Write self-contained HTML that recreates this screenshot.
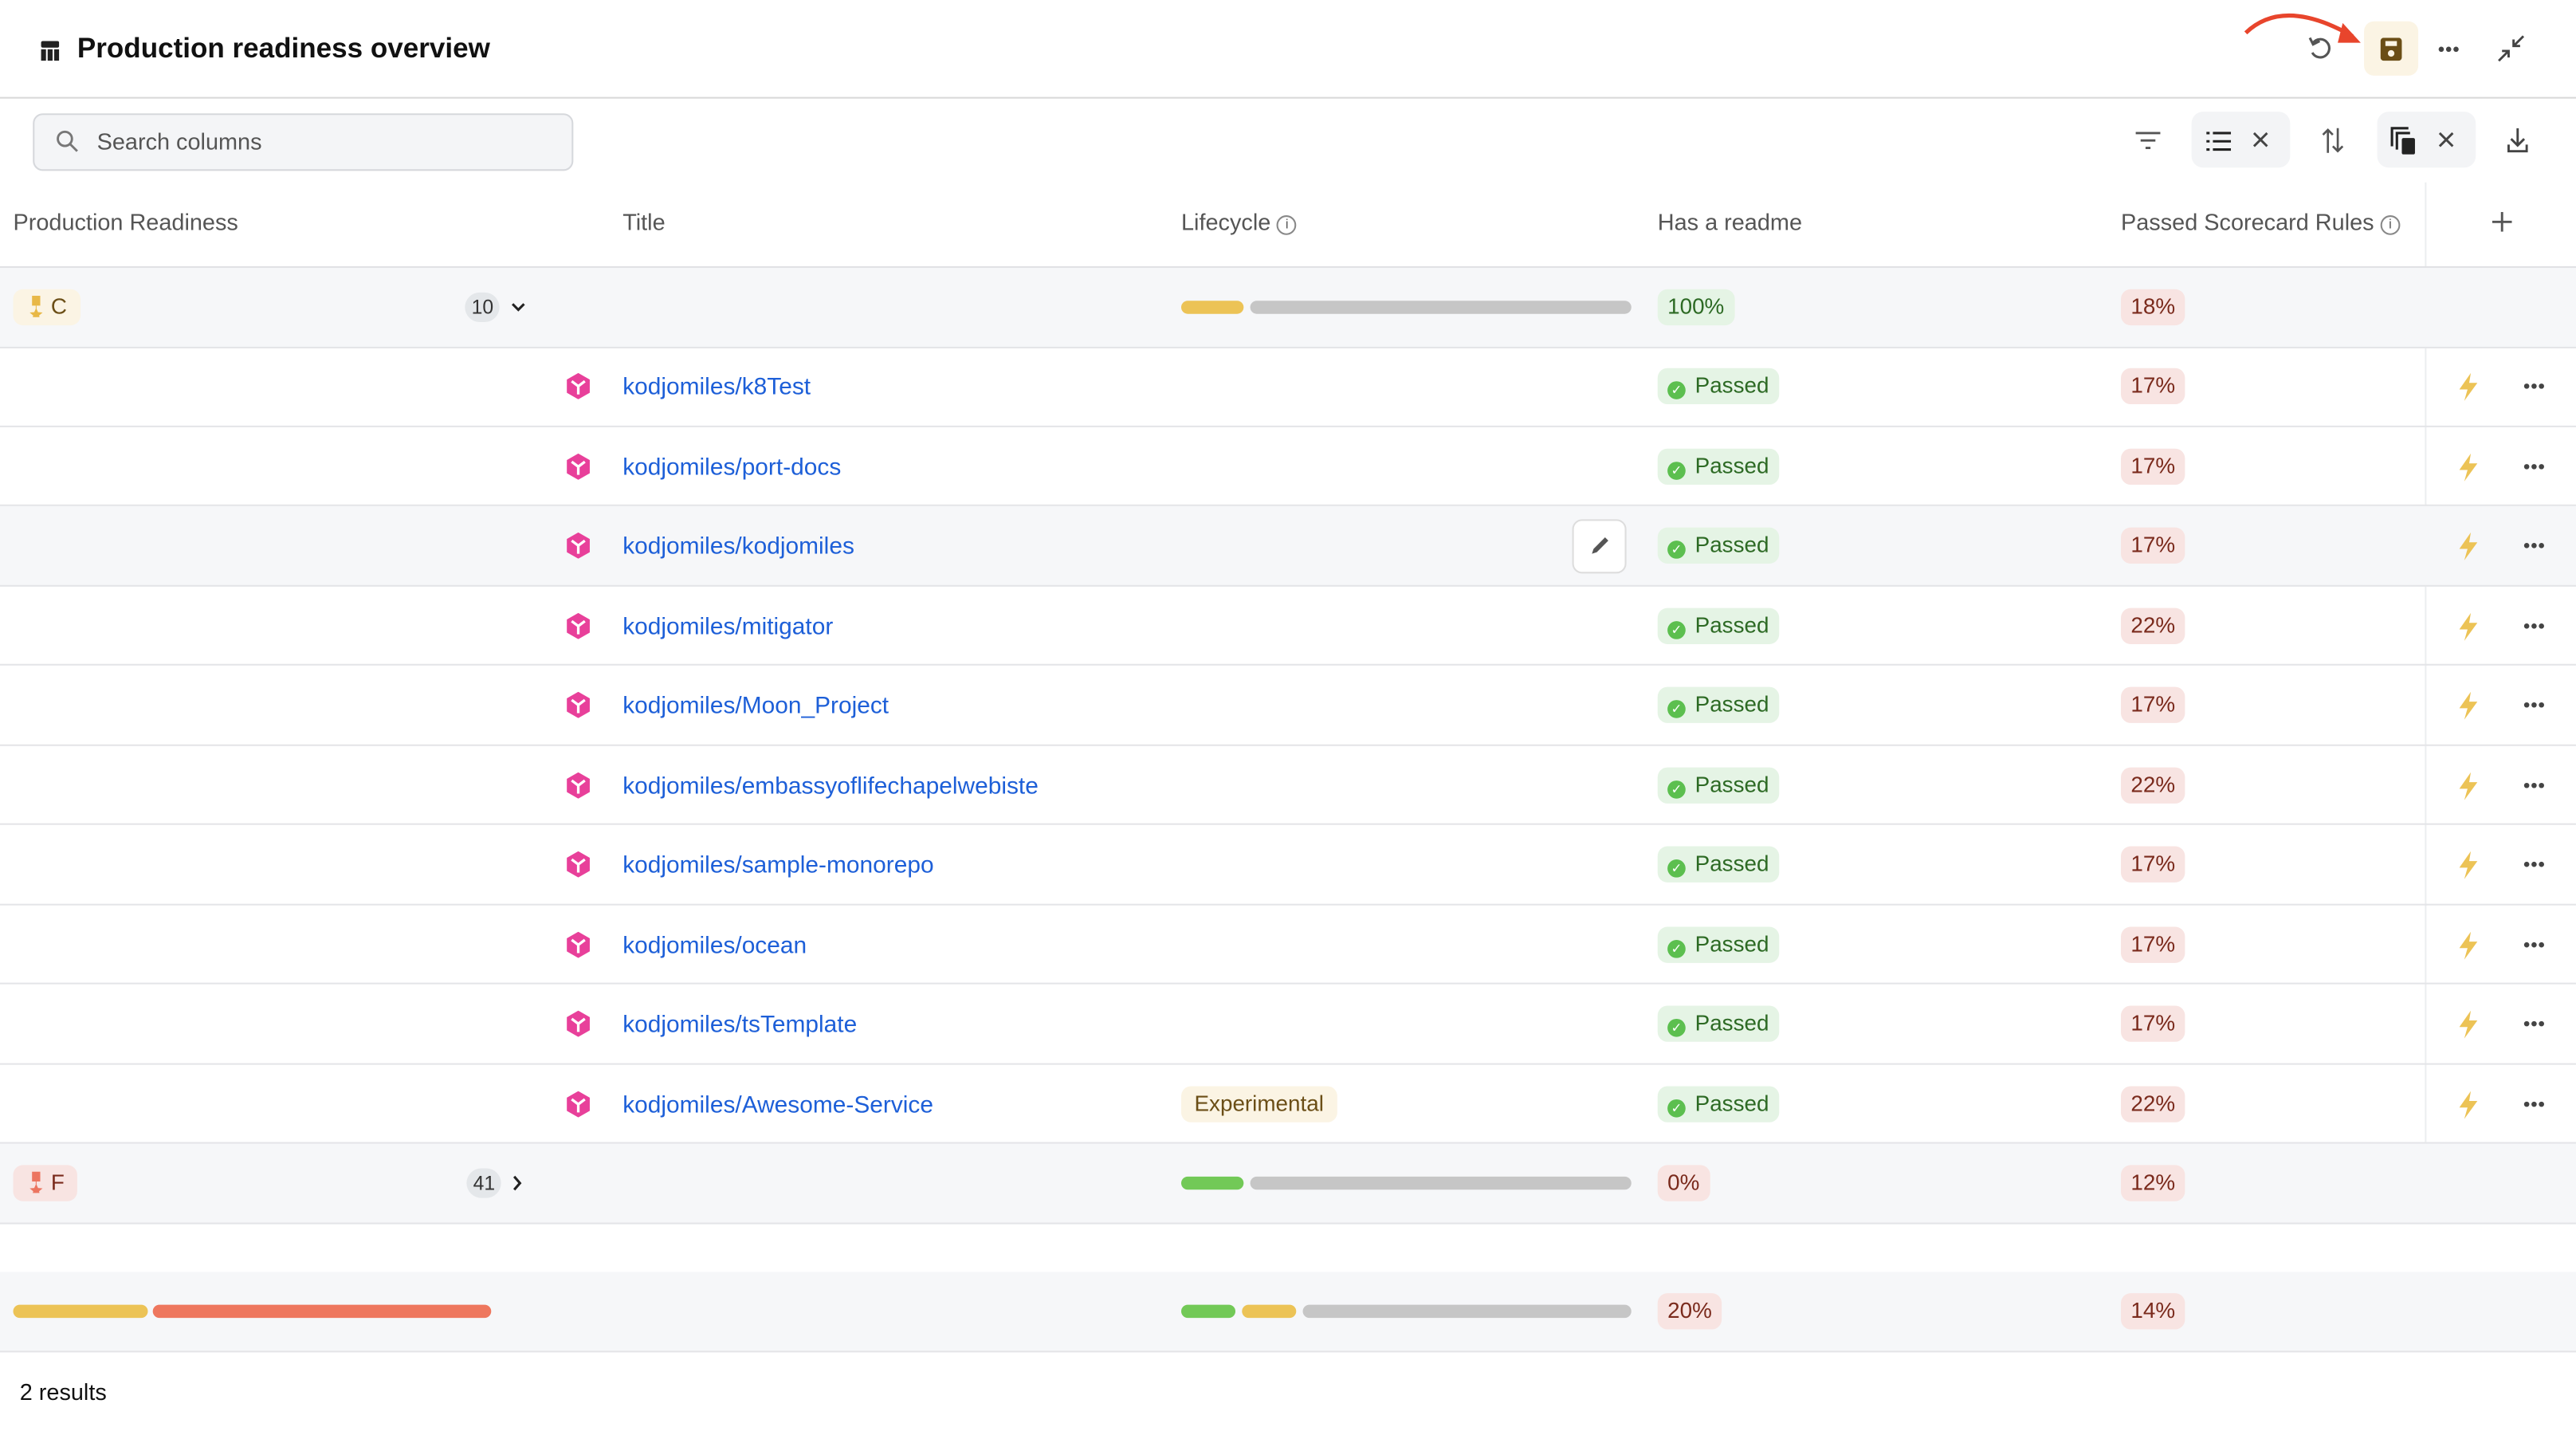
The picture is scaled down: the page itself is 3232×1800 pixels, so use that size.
<!DOCTYPE html>
<html><head><meta charset="utf-8"><style>
html,body{margin:0;padding:0;background:#fff;}
body{width:3232px;height:1800px;overflow:hidden;position:relative;}
#s{position:absolute;left:0;top:0;width:1568px;height:873.3px;transform:scale(2.0612);transform-origin:0 0;font-family:"Liberation Sans",sans-serif;color:#222;font-size:14px;}
.a{position:absolute;}
.row{position:absolute;left:0;width:1568px;border-bottom:1px solid #e4e5e8;box-sizing:border-box;}
.chip{position:absolute;height:22px;line-height:22px;border-radius:6px;padding:0 6px;font-size:13.5px;white-space:nowrap;}
.g{background:#e5f4e5;color:#2d6a24;}
.r{background:#f8e4e2;color:#7a2a1c;}
.y{background:#fbf4e4;color:#6b4e16;}
.hd{position:absolute;top:127px;font-size:14px;color:#555;}
.lnk{position:absolute;left:379px;top:17px;color:#1d5fd8;font-size:14.5px;}
.bar{position:absolute;height:8px;border-radius:4px;}
.cnt{position:absolute;height:18px;line-height:18px;border-radius:9px;background:#e4e7ea;font-size:12px;padding:0 4px;color:#333;}
.ck{display:inline-block;width:11px;height:11px;border-radius:50%;background:#5cbf4f;color:#fff;font-size:8px;line-height:11px;text-align:center;vertical-align:-1px;margin-right:2px;}
.cube{position:absolute;left:345px;top:16px;}
.bolt{position:absolute;left:1497px;top:16px;}
.dots{position:absolute;left:1536px;top:22px;}
</style></head><body><div id="s">
<div class="a" style="left:25px;top:24px;width:11px;height:12px;">
<svg width="11" height="12"><rect x="0" y="0" width="11" height="4" rx="1" fill="#222"/><rect x="0" y="5" width="3" height="7" fill="#222"/><rect x="4" y="5" width="3" height="7" fill="#222"/><rect x="8" y="5" width="3" height="7" fill="#222"/></svg></div>
<div class="a" style="left:47px;top:20px;font-size:17px;font-weight:bold;color:#111;">Production readiness overview</div>
<svg class="a" style="left:1360px;top:4px" width="80" height="40"><path d="M7 16 Q30 -6 72 18" stroke="#e8452c" stroke-width="2.5" fill="none"/><path d="M66 10 L77 22 L63 22 Z" fill="#e8452c"/></svg>
<svg class="a" style="left:1405px;top:22px" width="15" height="15"><path d="M3 4 A5.5 5.5 0 1 1 2.5 10" stroke="#555" stroke-width="1.5" fill="none"/><path d="M1 1 L3 5 L7 3" stroke="#555" stroke-width="1.5" fill="none"/></svg>
<div class="a" style="left:1439px;top:13px;width:33px;height:33px;background:#fbf4e4;border-radius:6px;"></div>
<svg class="a" style="left:1449px;top:23px" width="13" height="14"><rect x="0" y="0" width="13" height="14" rx="2" fill="#6b4e16"/><rect x="3" y="2" width="7" height="3" fill="#fbf4e4"/><circle cx="6.5" cy="9.5" r="2" fill="#fbf4e4"/></svg>
<svg class="a" style="left:1484px;top:28px" width="13" height="4"><circle cx="2" cy="2" r="1.6" fill="#444"/><circle cx="6.5" cy="2" r="1.6" fill="#444"/><circle cx="11" cy="2" r="1.6" fill="#444"/></svg>
<svg class="a" style="left:1520px;top:21px" width="17" height="17"><path d="M16 1 L10 7 M10 3 L10 7 L14 7 M1 16 L7 10 M3 10 L7 10 L7 14" stroke="#444" stroke-width="1.4" fill="none"/></svg>
<div class="a" style="left:0;top:59px;width:1568px;height:1px;background:#d8d8d8;"></div>
<div class="a" style="left:20px;top:69px;width:327px;height:33px;border:1px solid #d6d8dc;border-radius:6px;background:#f4f5f7;"></div>
<svg class="a" style="left:34px;top:79px" width="14" height="14"><circle cx="5.5" cy="5.5" r="4.3" stroke="#777" stroke-width="1.4" fill="none"/><path d="M8.8 8.8 L13 13" stroke="#777" stroke-width="1.4"/></svg>
<div class="a" style="left:59px;top:78px;color:#555;font-size:14px;">Search columns</div>
<svg class="a" style="left:1300px;top:80px" width="15" height="12"><path d="M0 1h15M3 5.5h9M6 10h3" stroke="#555" stroke-width="1.4"/></svg>
<div class="a" style="left:1334px;top:68px;width:60px;height:34px;background:#f3f4f6;border-radius:7px;"></div>
<svg class="a" style="left:1343px;top:80px" width="15" height="12"><path d="M0 1h2M4 1h11M0 6h2M4 6h11M0 11h2M4 11h11" stroke="#222" stroke-width="1.5"/></svg>
<svg class="a" style="left:1371px;top:80px" width="10" height="10"><path d="M1 1L9 9M9 1L1 9" stroke="#444" stroke-width="1.4"/></svg>
<svg class="a" style="left:1413px;top:77px" width="14" height="17"><path d="M4 16V2M1 5l3-3 3 3M10 1v14M7 12l3 3 3-3" stroke="#555" stroke-width="1.3" fill="none"/></svg>
<div class="a" style="left:1447px;top:68px;width:60px;height:34px;background:#f3f4f6;border-radius:7px;"></div>
<svg class="a" style="left:1455px;top:77px" width="16" height="17"><path d="M1 12V1h10" stroke="#222" stroke-width="1.5" fill="none"/><path d="M4 14V4h8" stroke="#222" stroke-width="1.5" fill="none"/><rect x="7" y="7" width="8" height="10" rx="1" fill="#222"/></svg>
<svg class="a" style="left:1484px;top:80px" width="10" height="10"><path d="M1 1L9 9M9 1L1 9" stroke="#444" stroke-width="1.4"/></svg>
<svg class="a" style="left:1526px;top:78px" width="13" height="15"><path d="M6.5 0v10M2.5 6.5l4 4 4-4M1 10v4h11v-4" stroke="#444" stroke-width="1.4" fill="none"/></svg>
<div class="hd" style="left:8px;">Production Readiness</div>
<div class="hd" style="left:379px;">Title</div>
<div class="hd" style="left:719px;">Lifecycle <span style="display:inline-block;width:10px;height:10px;border:1px solid #888;border-radius:50%;font-size:8px;line-height:10px;text-align:center;vertical-align:1px;">i</span></div>
<div class="hd" style="left:1009px;">Has a readme</div>
<div class="hd" style="left:1291px;">Passed Scorecard Rules <span style="display:inline-block;width:10px;height:10px;border:1px solid #888;border-radius:50%;font-size:8px;line-height:10px;text-align:center;vertical-align:1px;">i</span></div>
<svg class="a" style="left:1517px;top:129px" width="12" height="12"><path d="M6 0v12M0 6h12" stroke="#555" stroke-width="1.4"/></svg>
<div class="a" style="left:1476px;top:111px;width:1px;height:585px;background:#eceef0;"></div>
<div class="a" style="left:0;top:162px;width:1568px;height:1px;background:#e0e1e4;"></div>

<div class="row" style="top:163px;height:48.5px;background:#f6f7f9;">
 <div class="chip y" style="left:8px;top:13px;padding:0 8px 0 10px;"><svg width="8" height="13" style="vertical-align:-2px;margin-right:5px"><rect x="1.5" y="0" width="5" height="6" fill="#e8b847"/><path d="M4 6v2M4 8l1 2.2 2.3.2-1.8 1.5.6 2.2L4 12.8 1.9 14.1l.6-2.2L.7 10.4 3 10.2z" fill="#e8b847" stroke="#e8b847" stroke-width=".5"/></svg>C</div>
 <div class="cnt" style="left:283px;top:15px;">10</div>
 <svg class="a" style="left:311px;top:21px" width="9" height="6"><path d="M1 1l3.5 3.5L8 1" stroke="#222" stroke-width="1.5" fill="none"/></svg>
 <div class="bar" style="left:719px;top:20px;width:38px;background:#ecc356;"></div>
 <div class="bar" style="left:761px;top:20px;width:232px;background:#c6c6c6;"></div>
 <div class="chip g" style="left:1009px;top:13px;">100%</div>
 <div class="chip r" style="left:1291px;top:13px;">18%</div>
</div>

<div class="row" style="top:696px;height:48.5px;background:#f6f7f9;">
 <div class="chip r" style="left:8px;top:13px;padding:0 8px 0 10px;"><svg width="8" height="13" style="vertical-align:-2px;margin-right:5px"><rect x="1.5" y="0" width="5" height="6" fill="#ec7560"/><path d="M4 6v2M4 8l1 2.2 2.3.2-1.8 1.5.6 2.2L4 12.8 1.9 14.1l.6-2.2L.7 10.4 3 10.2z" fill="#ec7560" stroke="#ec7560" stroke-width=".5"/></svg>F</div>
 <div class="cnt" style="left:284px;top:15px;">41</div>
 <svg class="a" style="left:312px;top:19px" width="6" height="10"><path d="M1 1l3.5 4L1 9" stroke="#222" stroke-width="1.5" fill="none"/></svg>
 <div class="bar" style="left:719px;top:20px;width:38px;background:#72c957;"></div>
 <div class="bar" style="left:761px;top:20px;width:232px;background:#c6c6c6;"></div>
 <div class="chip r" style="left:1009px;top:13px;">0%</div>
 <div class="chip r" style="left:1291px;top:13px;">12%</div>
</div>
<div class="row" style="top:774px;height:48.5px;background:#f6f7f9;">
 <div class="bar" style="left:8px;top:20px;width:82px;background:#ecc356;"></div>
 <div class="bar" style="left:93px;top:20px;width:206px;background:#ee775e;"></div>
 <div class="bar" style="left:719px;top:20px;width:33px;background:#72c957;"></div>
 <div class="bar" style="left:756px;top:20px;width:33px;background:#ecc356;"></div>
 <div class="bar" style="left:793px;top:20px;width:200px;background:#c6c6c6;"></div>
 <div class="chip r" style="left:1009px;top:13px;">20%</div>
 <div class="chip r" style="left:1291px;top:13px;">14%</div>
</div>
<div class="a" style="left:12px;top:839px;font-size:14px;color:#111;">2 results</div>

<div class="row" style="top:211px;height:48.5px;"><svg class="cube" width="14" height="16"><path d="M7 0L14 4V12L7 16L0 12V4Z" fill="#e8409a"/><path d="M3 5L7 8L11 5M7 8V13" stroke="#fff" stroke-width="1.6" fill="none"/></svg><div class="lnk">kodjomiles/k8Test</div><div class="chip g" style="left:1009px;top:13px;"><span class="ck">✓</span> Passed</div><div class="chip r" style="left:1291px;top:13px;">17%</div><svg class="bolt" width="11" height="17"><path d="M7 0L0 10H5L3 17L11 6H6Z" fill="#ecc356"/></svg><svg class="dots" width="13" height="4"><circle cx="2" cy="2" r="1.6" fill="#444"/><circle cx="6.5" cy="2" r="1.6" fill="#444"/><circle cx="11" cy="2" r="1.6" fill="#444"/></svg></div>
<div class="row" style="top:259.5px;height:48.5px;"><svg class="cube" width="14" height="16"><path d="M7 0L14 4V12L7 16L0 12V4Z" fill="#e8409a"/><path d="M3 5L7 8L11 5M7 8V13" stroke="#fff" stroke-width="1.6" fill="none"/></svg><div class="lnk">kodjomiles/port-docs</div><div class="chip g" style="left:1009px;top:13px;"><span class="ck">✓</span> Passed</div><div class="chip r" style="left:1291px;top:13px;">17%</div><svg class="bolt" width="11" height="17"><path d="M7 0L0 10H5L3 17L11 6H6Z" fill="#ecc356"/></svg><svg class="dots" width="13" height="4"><circle cx="2" cy="2" r="1.6" fill="#444"/><circle cx="6.5" cy="2" r="1.6" fill="#444"/><circle cx="11" cy="2" r="1.6" fill="#444"/></svg></div>
<div class="row" style="top:308px;height:48.5px;background:#f6f7f9;"><svg class="cube" width="14" height="16"><path d="M7 0L14 4V12L7 16L0 12V4Z" fill="#e8409a"/><path d="M3 5L7 8L11 5M7 8V13" stroke="#fff" stroke-width="1.6" fill="none"/></svg><div class="lnk">kodjomiles/kodjomiles</div><div class="a" style="left:957px;top:8px;width:31px;height:31px;background:#fff;border:1px solid #ddd;border-radius:6px;"><svg style="position:absolute;left:10px;top:9px" width="12" height="12"><path d="M1 11L2 8L9 1L11 3L4 10Z" fill="#555"/></svg></div><div class="chip g" style="left:1009px;top:13px;"><span class="ck">✓</span> Passed</div><div class="chip r" style="left:1291px;top:13px;">17%</div><svg class="bolt" width="11" height="17"><path d="M7 0L0 10H5L3 17L11 6H6Z" fill="#ecc356"/></svg><svg class="dots" width="13" height="4"><circle cx="2" cy="2" r="1.6" fill="#444"/><circle cx="6.5" cy="2" r="1.6" fill="#444"/><circle cx="11" cy="2" r="1.6" fill="#444"/></svg></div>
<div class="row" style="top:356.5px;height:48.5px;"><svg class="cube" width="14" height="16"><path d="M7 0L14 4V12L7 16L0 12V4Z" fill="#e8409a"/><path d="M3 5L7 8L11 5M7 8V13" stroke="#fff" stroke-width="1.6" fill="none"/></svg><div class="lnk">kodjomiles/mitigator</div><div class="chip g" style="left:1009px;top:13px;"><span class="ck">✓</span> Passed</div><div class="chip r" style="left:1291px;top:13px;">22%</div><svg class="bolt" width="11" height="17"><path d="M7 0L0 10H5L3 17L11 6H6Z" fill="#ecc356"/></svg><svg class="dots" width="13" height="4"><circle cx="2" cy="2" r="1.6" fill="#444"/><circle cx="6.5" cy="2" r="1.6" fill="#444"/><circle cx="11" cy="2" r="1.6" fill="#444"/></svg></div>
<div class="row" style="top:405px;height:48.5px;"><svg class="cube" width="14" height="16"><path d="M7 0L14 4V12L7 16L0 12V4Z" fill="#e8409a"/><path d="M3 5L7 8L11 5M7 8V13" stroke="#fff" stroke-width="1.6" fill="none"/></svg><div class="lnk">kodjomiles/Moon_Project</div><div class="chip g" style="left:1009px;top:13px;"><span class="ck">✓</span> Passed</div><div class="chip r" style="left:1291px;top:13px;">17%</div><svg class="bolt" width="11" height="17"><path d="M7 0L0 10H5L3 17L11 6H6Z" fill="#ecc356"/></svg><svg class="dots" width="13" height="4"><circle cx="2" cy="2" r="1.6" fill="#444"/><circle cx="6.5" cy="2" r="1.6" fill="#444"/><circle cx="11" cy="2" r="1.6" fill="#444"/></svg></div>
<div class="row" style="top:453.5px;height:48.5px;"><svg class="cube" width="14" height="16"><path d="M7 0L14 4V12L7 16L0 12V4Z" fill="#e8409a"/><path d="M3 5L7 8L11 5M7 8V13" stroke="#fff" stroke-width="1.6" fill="none"/></svg><div class="lnk">kodjomiles/embassyoflifechapelwebiste</div><div class="chip g" style="left:1009px;top:13px;"><span class="ck">✓</span> Passed</div><div class="chip r" style="left:1291px;top:13px;">22%</div><svg class="bolt" width="11" height="17"><path d="M7 0L0 10H5L3 17L11 6H6Z" fill="#ecc356"/></svg><svg class="dots" width="13" height="4"><circle cx="2" cy="2" r="1.6" fill="#444"/><circle cx="6.5" cy="2" r="1.6" fill="#444"/><circle cx="11" cy="2" r="1.6" fill="#444"/></svg></div>
<div class="row" style="top:502px;height:48.5px;"><svg class="cube" width="14" height="16"><path d="M7 0L14 4V12L7 16L0 12V4Z" fill="#e8409a"/><path d="M3 5L7 8L11 5M7 8V13" stroke="#fff" stroke-width="1.6" fill="none"/></svg><div class="lnk">kodjomiles/sample-monorepo</div><div class="chip g" style="left:1009px;top:13px;"><span class="ck">✓</span> Passed</div><div class="chip r" style="left:1291px;top:13px;">17%</div><svg class="bolt" width="11" height="17"><path d="M7 0L0 10H5L3 17L11 6H6Z" fill="#ecc356"/></svg><svg class="dots" width="13" height="4"><circle cx="2" cy="2" r="1.6" fill="#444"/><circle cx="6.5" cy="2" r="1.6" fill="#444"/><circle cx="11" cy="2" r="1.6" fill="#444"/></svg></div>
<div class="row" style="top:550.5px;height:48.5px;"><svg class="cube" width="14" height="16"><path d="M7 0L14 4V12L7 16L0 12V4Z" fill="#e8409a"/><path d="M3 5L7 8L11 5M7 8V13" stroke="#fff" stroke-width="1.6" fill="none"/></svg><div class="lnk">kodjomiles/ocean</div><div class="chip g" style="left:1009px;top:13px;"><span class="ck">✓</span> Passed</div><div class="chip r" style="left:1291px;top:13px;">17%</div><svg class="bolt" width="11" height="17"><path d="M7 0L0 10H5L3 17L11 6H6Z" fill="#ecc356"/></svg><svg class="dots" width="13" height="4"><circle cx="2" cy="2" r="1.6" fill="#444"/><circle cx="6.5" cy="2" r="1.6" fill="#444"/><circle cx="11" cy="2" r="1.6" fill="#444"/></svg></div>
<div class="row" style="top:599px;height:48.5px;"><svg class="cube" width="14" height="16"><path d="M7 0L14 4V12L7 16L0 12V4Z" fill="#e8409a"/><path d="M3 5L7 8L11 5M7 8V13" stroke="#fff" stroke-width="1.6" fill="none"/></svg><div class="lnk">kodjomiles/tsTemplate</div><div class="chip g" style="left:1009px;top:13px;"><span class="ck">✓</span> Passed</div><div class="chip r" style="left:1291px;top:13px;">17%</div><svg class="bolt" width="11" height="17"><path d="M7 0L0 10H5L3 17L11 6H6Z" fill="#ecc356"/></svg><svg class="dots" width="13" height="4"><circle cx="2" cy="2" r="1.6" fill="#444"/><circle cx="6.5" cy="2" r="1.6" fill="#444"/><circle cx="11" cy="2" r="1.6" fill="#444"/></svg></div>
<div class="row" style="top:647.5px;height:48.5px;"><svg class="cube" width="14" height="16"><path d="M7 0L14 4V12L7 16L0 12V4Z" fill="#e8409a"/><path d="M3 5L7 8L11 5M7 8V13" stroke="#fff" stroke-width="1.6" fill="none"/></svg><div class="lnk">kodjomiles/Awesome-Service</div><div class="chip y" style="left:719px;top:13px;padding:0 8px;">Experimental</div><div class="chip g" style="left:1009px;top:13px;"><span class="ck">✓</span> Passed</div><div class="chip r" style="left:1291px;top:13px;">22%</div><svg class="bolt" width="11" height="17"><path d="M7 0L0 10H5L3 17L11 6H6Z" fill="#ecc356"/></svg><svg class="dots" width="13" height="4"><circle cx="2" cy="2" r="1.6" fill="#444"/><circle cx="6.5" cy="2" r="1.6" fill="#444"/><circle cx="11" cy="2" r="1.6" fill="#444"/></svg></div>
</div></body></html>
